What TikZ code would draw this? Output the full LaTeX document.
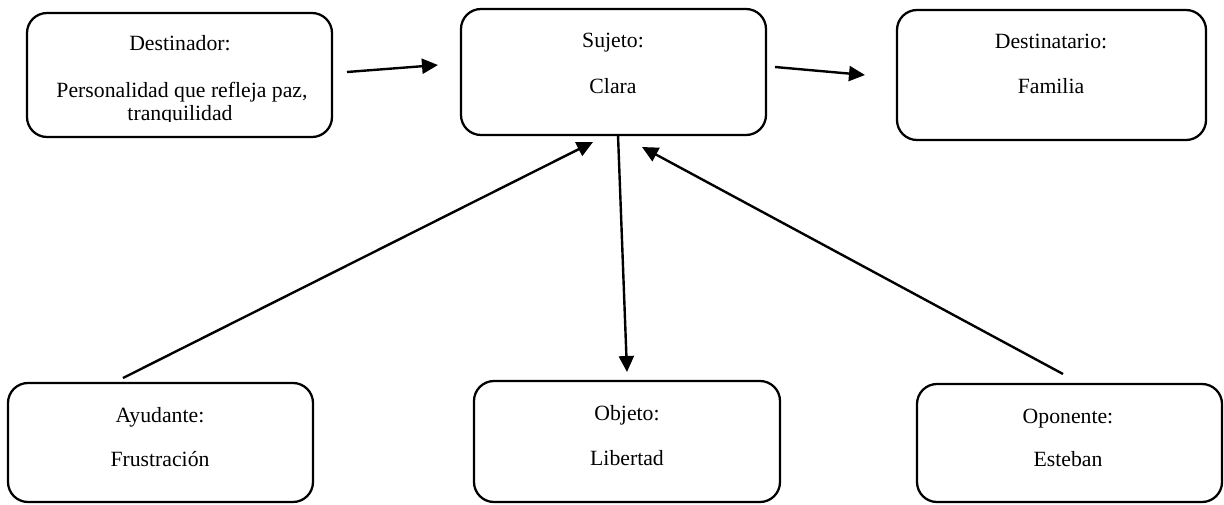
\documentclass[tikz,border=0pt]{standalone}
\usepackage{fontspec}
\setmainfont{Liberation Serif}
\usetikzlibrary{arrows.meta}
\tikzset{
  box/.style={draw=black, line width=1.7pt, rounded corners=15pt, inner sep=0pt},
  lbl/.style={anchor=base, inner sep=0pt, font=\fontsize{16.3}{19}\selectfont},
  conn/.style={line width=1.8pt, -{Triangle[length=12pt,width=11.25pt]}}
}
\begin{document}
\begin{tikzpicture}[x=0.75pt,y=-0.75pt]
\useasboundingbox (0,0) rectangle (1224,504);
% boxes
\node[box, minimum width=228.75pt, minimum height=93pt] (destinador) at (179.5,75) {};
\node[box, minimum width=228.75pt, minimum height=94.5pt] (sujeto) at (613.5,72) {};
\node[box, minimum width=231.75pt, minimum height=97.5pt] (destinatario) at (1051.5,75) {};
\node[box, minimum width=228.75pt, minimum height=89.25pt] (ayudante) at (160.5,442.5) {};
\node[box, minimum width=229.5pt, minimum height=90.75pt] (objeto) at (627,441.5) {};
\node[box, minimum width=228.75pt, minimum height=88.5pt] (oponente) at (1069.5,443) {};
% texts
\node[lbl] (t1a) at (180,50) {Destinador:};
\node[lbl] (t1b) at (182,97) {Personalidad que refleja paz,};
\begin{scope}
\clip (30,100) rectangle (330,121.5);
\node[lbl] (t1c) at (180,120) {tranquilidad};
\end{scope}
\node[lbl] (t2a) at (613,47) {Sujeto:};
\node[lbl] (t2b) at (613,93) {Clara};
\node[lbl] (t3a) at (1051,48) {Destinatario:};
\node[lbl] (t3b) at (1051,93) {Familia};
\node[lbl] (t4a) at (160,422) {Ayudante:};
\node[lbl] (t4b) at (160,466) {Frustración};
\node[lbl] (t5a) at (627,420) {Objeto:};
\node[lbl] (t5b) at (627,465) {Libertad};
\node[lbl] (t6a) at (1068,423) {Oponente:};
\node[lbl] (t6b) at (1068,466) {Esteban};
% connector end points
\coordinate (a1s) at (347,72);
\coordinate (a1e) at (438,65);
\coordinate (a2s) at (775,67);
\coordinate (a2e) at (865,75);
\coordinate (a3s) at (123,378);
\coordinate (a3e) at (593,142);
\coordinate (a4s) at (618,135);
\coordinate (a4e) at (627,372);
\coordinate (a5s) at (1063,374);
\coordinate (a5e) at (642,147);
\draw[conn] (a1s) -- (a1e);
\draw[conn] (a2s) -- (a2e);
\draw[conn] (a3s) -- (a3e);
\draw[conn] (a4s) -- (a4e);
\draw[conn] (a5s) -- (a5e);
\end{tikzpicture}
\end{document}
